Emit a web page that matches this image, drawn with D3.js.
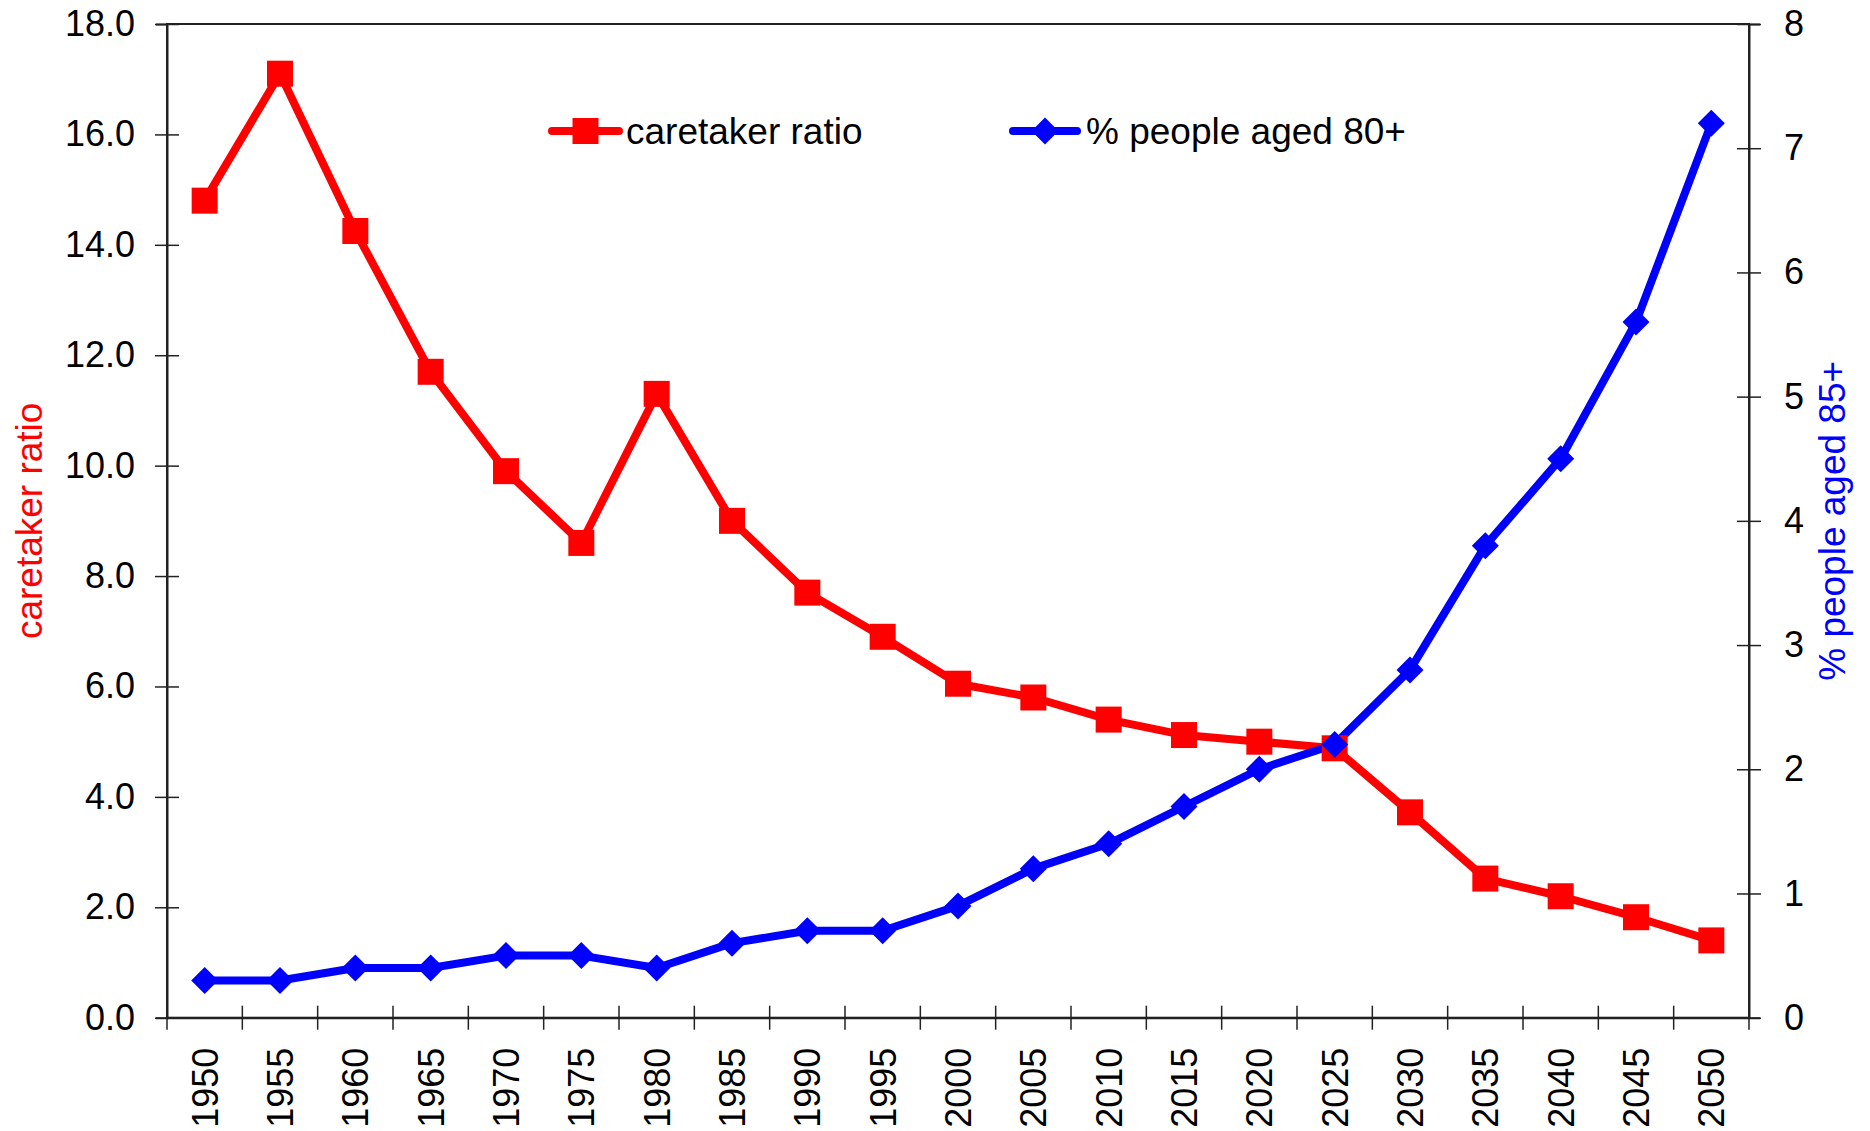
<!DOCTYPE html>
<html>
<head>
<meta charset="utf-8">
<script src="https://cdn.jsdelivr.net/npm/d3@7"></script>
<style>
  html, body { margin: 0; padding: 0; background: #fff; }
  svg { display: block; font-family: "Liberation Sans", Arial, sans-serif; }
</style>
</head>
<body>
<svg id="chart" width="1870" height="1131"></svg>
<script>
const years = [1950,1955,1960,1965,1970,1975,1980,1985,1990,1995,2000,2005,2010,2015,2020,2025,2030,2035,2040,2045,2050];
const caretakerRatio = [14.8,17.1,14.25,11.7,9.9,8.6,11.3,9.0,7.7,6.9,6.05,5.8,5.4,5.12,5.0,4.88,3.72,2.52,2.2,1.82,1.4];
const peopleAged80 = [0.3,0.3,0.4,0.4,0.5,0.5,0.4,0.6,0.7,0.7,0.9,1.2,1.4,1.7,2.0,2.2,2.8,3.8,4.5,5.6,7.2];
const leftTicks = [0,2,4,6,8,10,12,14,16,18];
const rightTicks = [0,1,2,3,4,5,6,7,8];
const seriesNames = ["caretaker ratio", "% people aged 80+"];
const leftTitle = "caretaker ratio";
const rightTitle = "% people aged 85+";

const svg = d3.select("#chart");
const L = 167, R = 1749, T = 24, B = 1017.7;
const RED = "#ff0000", BLUE = "#0000ff", AX = "#222";
const FS = 36;

const x = d3.scaleBand().domain(years).range([L, R]).padding(0);
const yL = d3.scaleLinear().domain([0, 18]).range([B, T]);
const yR = d3.scaleLinear().domain([0, 8]).range([B, T]);

// frame
svg.append("rect").attr("x", L).attr("y", T).attr("width", R - L).attr("height", B - T)
  .attr("fill", "none").attr("stroke", AX).attr("stroke-width", 2);

// left axis
const gL = svg.append("g").attr("transform", `translate(${L},0)`)
  .call(d3.axisLeft(yL).tickValues(leftTicks).tickFormat(d3.format(".1f")).tickSize(11).tickPadding(18));
gL.select(".domain").attr("stroke", AX).attr("stroke-width", 2);
gL.selectAll(".tick line").attr("x1", -12).attr("x2", 12).attr("stroke", AX).attr("stroke-width", 1.5);
gL.selectAll(".tick text").attr("font-size", FS).attr("fill", "#000").attr("font-family", "Liberation Sans, Arial, sans-serif").attr("dx", "-3");

// right axis
const gR = svg.append("g").attr("transform", `translate(${R},0)`)
  .call(d3.axisRight(yR).tickValues(rightTicks).tickFormat(d3.format("d")).tickSize(11).tickPadding(18));
gR.select(".domain").attr("stroke", AX).attr("stroke-width", 2);
gR.selectAll(".tick line").attr("x1", -12).attr("x2", 12).attr("stroke", AX).attr("stroke-width", 1.5);
gR.selectAll(".tick text").attr("font-size", FS).attr("fill", "#000").attr("font-family", "Liberation Sans, Arial, sans-serif").attr("dx", "6");

// bottom axis labels
const gB = svg.append("g").attr("transform", `translate(0,${B})`)
  .call(d3.axisBottom(x).tickSize(0).tickPadding(0));
gB.select(".domain").attr("stroke", AX).attr("stroke-width", 2);
gB.selectAll(".tick text")
  .attr("font-size", FS).attr("fill", "#000").attr("font-family", "Liberation Sans, Arial, sans-serif")
  .attr("transform", "rotate(-90)")
  .attr("text-anchor", "end")
  .attr("x", -30).attr("y", 0).attr("dy", "0.36em");

// boundary ticks on x axis
const boundaries = years.map(d => x(d)).concat([x(years[years.length - 1]) + x.bandwidth()]);
svg.append("g").selectAll("line").data(boundaries).join("line")
  .attr("x1", d => d).attr("x2", d => d).attr("y1", B - 12).attr("y2", B + 12)
  .attr("stroke", AX).attr("stroke-width", 1.5);

// axis titles
svg.append("text").attr("transform", `translate(42,${(T + B) / 2}) rotate(-90)`)
  .attr("text-anchor", "middle").attr("font-size", 37).attr("fill", RED).text(leftTitle);
svg.append("text").attr("transform", `translate(1845,${(T + B) / 2}) rotate(-90)`)
  .attr("text-anchor", "middle").attr("font-size", 37).attr("fill", BLUE).text(rightTitle);

const cx = d => x(d) + x.bandwidth() / 2;

// red series
svg.append("path").datum(years.map((d, i) => [cx(d), yL(caretakerRatio[i])]))
  .attr("d", d3.line()).attr("fill", "none").attr("stroke", RED).attr("stroke-width", 8).attr("stroke-linejoin", "round");
// blue series
svg.append("path").datum(years.map((d, i) => [cx(d), yR(peopleAged80[i])]))
  .attr("d", d3.line()).attr("fill", "none").attr("stroke", BLUE).attr("stroke-width", 8).attr("stroke-linejoin", "round");

const sq = d3.symbol().type(d3.symbolSquare).size(26 * 26);
const di = d3.symbol().type(d3.symbolDiamond2 || d3.symbolSquare2).size(19 * 19);

svg.append("g").selectAll("path").data(years).join("path")
  .attr("transform", (d, i) => `translate(${cx(d)},${yL(caretakerRatio[i])})`)
  .attr("d", sq).attr("fill", RED);

function diamondPath(s) {
  return `M0,${-s}L${s},0L0,${s}L${-s},0Z`;
}
svg.append("g").selectAll("path").data(years).join("path")
  .attr("transform", (d, i) => `translate(${cx(d)},${yR(peopleAged80[i])})`)
  .attr("d", diamondPath(13.5)).attr("fill", BLUE);

// legend
const lg = svg.append("g");
lg.append("line").attr("x1", 552).attr("x2", 619).attr("y1", 131).attr("y2", 131)
  .attr("stroke", RED).attr("stroke-width", 8).attr("stroke-linecap", "round");
lg.append("path").attr("transform", "translate(585.5,131)").attr("d", sq).attr("fill", RED);
lg.append("text").attr("x", 626).attr("y", 131).attr("dy", "0.36em").attr("font-size", 37).attr("fill", "#000").text(seriesNames[0]);

lg.append("line").attr("x1", 1013).attr("x2", 1077).attr("y1", 131).attr("y2", 131)
  .attr("stroke", BLUE).attr("stroke-width", 8).attr("stroke-linecap", "round");
lg.append("path").attr("transform", "translate(1045,131)").attr("d", diamondPath(13.5)).attr("fill", BLUE);
lg.append("text").attr("x", 1086).attr("y", 131).attr("dy", "0.36em").attr("font-size", 37).attr("fill", "#000").text(seriesNames[1]);
</script>
</body>
</html>
